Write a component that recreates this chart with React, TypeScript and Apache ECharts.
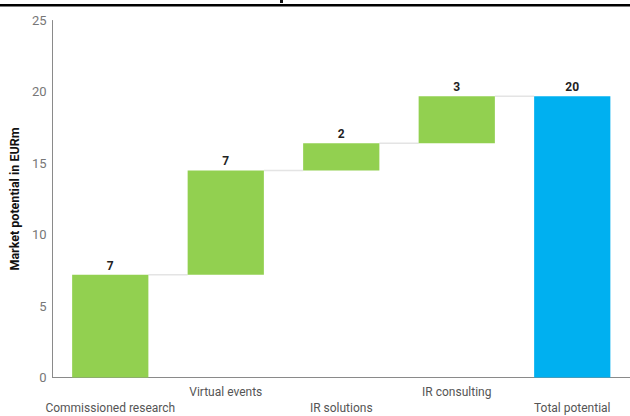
import React, { useEffect, useRef } from "react";
import * as echarts from "echarts";

// Market potential breakdown (EURm), drawn as a waterfall
const categories = [
  "Commissioned research",
  "Virtual events",
  "IR solutions",
  "IR consulting",
  "Total potential",
];
const increments = [7.2, 7.3, 1.9, 3.3];
const yTicks = { min: 0, max: 25, interval: 5 };

const GREEN = "#92D050";
const BLUE = "#00B0F0";

export default function App() {
  const ref = useRef<HTMLDivElement>(null);

  useEffect(() => {
    document.body.style.margin = "0";
    if (!ref.current) return;
    const chart = echarts.init(ref.current, undefined, { renderer: "svg" });

    const total = increments.reduce((a, b) => a + b, 0);
    const values = [...increments, total];
    const bases: number[] = [];
    let run = 0;
    increments.forEach((v) => {
      bases.push(run);
      run += v;
    });
    bases.push(0);
    // level at which each connector runs (top of bar i)
    const levels = values.map((v, i) => bases[i] + v);

    const barRatio = 0.66;

    chart.setOption({
      animation: false,
      grid: { left: 50.5, right: -1.5, top: 20.5, bottom: 37.5 },
      graphic: [
        {
          type: "rect",
          shape: { x: 0, y: 4, width: 630, height: 2.5 },
          style: { fill: "#000" },
          silent: true,
        },
        {
          type: "rect",
          shape: { x: 280, y: 0, width: 3, height: 3 },
          style: { fill: "#111" },
          silent: true,
        },
      ],
      xAxis: {
        type: "category",
        data: categories,
        axisLine: { lineStyle: { color: "#8a8a8a", width: 1 } },
        axisTick: { show: false },
        axisLabel: {
          interval: 0,
          color: "#555",
          fontFamily: "Roboto",
          fontSize: 12,
          lineHeight: 16,
          margin: 6.5,
          formatter: (name: string, idx: number) =>
            idx % 2 === 0 ? "\n" + name : name,
        },
      },
      yAxis: {
        type: "value",
        min: yTicks.min,
        max: yTicks.max,
        interval: yTicks.interval,
        name: "Market potential in EURm",
        nameLocation: "middle",
        nameGap: 26,
        nameTextStyle: {
          fontFamily: "Roboto",
          fontWeight: "bold",
          fontSize: 12.5,
          color: "#111",
        },
        axisLine: { show: true, lineStyle: { color: "#8a8a8a", width: 1 } },
        axisTick: { show: false },
        splitLine: { show: false },
        axisLabel: {
          color: "#777",
          fontFamily: "Roboto",
          fontSize: 13,
          margin: 6,
        },
      },
      series: [
        {
          type: "custom",
          z: 1,
          silent: true,
          data: levels.slice(0, -1).map((lv, i) => [i, lv]),
          renderItem: (params: any, api: any) => {
            const i = api.value(0);
            const lv = api.value(1);
            const bandW = api.size([1, 0])[0];
            const half = (bandW * barRatio) / 2;
            const p1 = api.coord([i, lv]);
            const p2 = api.coord([i + 1, lv]);
            return {
              type: "line",
              shape: { x1: p1[0] + half, y1: p1[1], x2: p2[0] - half, y2: p2[1] },
              style: { stroke: "#e4e4e4", lineWidth: 1.5 },
            };
          },
        },
        {
          type: "bar",
          stack: "wf",
          barWidth: barRatio * 100 + "%",
          silent: true,
          itemStyle: { color: "transparent" },
          data: bases,
          z: 2,
        },
        {
          type: "bar",
          stack: "wf",
          barWidth: barRatio * 100 + "%",
          z: 2,
          data: values.map((v, i) => ({
            value: v,
            itemStyle: { color: i === values.length - 1 ? BLUE : GREEN },
          })),
          label: {
            show: true,
            position: "top",
            distance: 3,
            fontFamily: "Roboto",
            fontWeight: "bold",
            fontSize: 12,
            color: "#222",
            formatter: (p: any) => String(Math.round(p.value)),
          },
        },
      ],
    });

    return () => chart.dispose();
  }, []);

  return <div ref={ref} style={{ width: 630, height: 416 }} />;
}
